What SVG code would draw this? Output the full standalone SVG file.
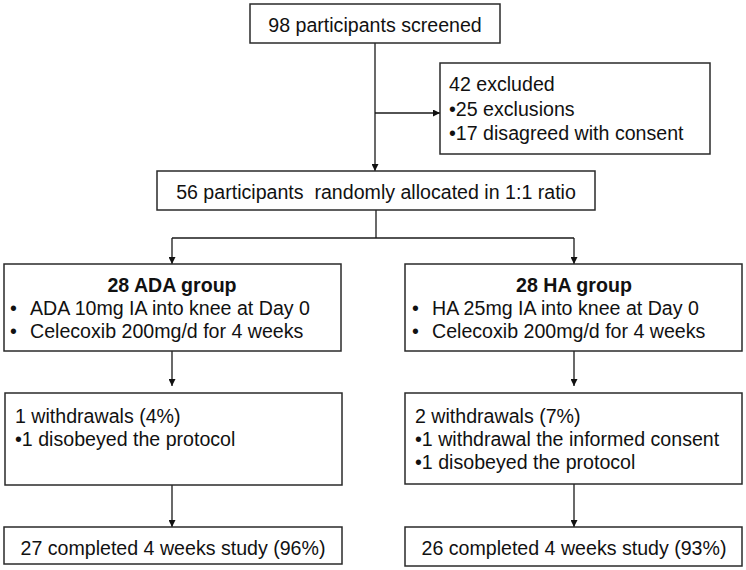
<svg xmlns="http://www.w3.org/2000/svg" width="746" height="570" viewBox="0 0 746 570">
<defs>
<style>
.box{fill:#fff;stroke:#2a2a2a;stroke-width:1.5}
.ln{fill:none;stroke:#1a1a1a;stroke-width:1.3}
text{font-family:"Liberation Sans",Arial,sans-serif;font-size:19.6px;fill:#111}
.c{text-anchor:middle}
.b{font-weight:bold}
</style>
<marker id="ah" viewBox="0 0 10 10" refX="10" refY="5" markerWidth="7" markerHeight="7" markerUnits="userSpaceOnUse" orient="auto">
<path d="M0,0 L10,5 L0,10 z" fill="#111"/>
</marker>
</defs>
<rect width="746" height="570" fill="#fff"/>
<g id="connectors">
<line class="ln" x1="375" y1="43" x2="375" y2="171" marker-end="url(#ah)"/>
<line class="ln" x1="375" y1="113" x2="440" y2="113" marker-end="url(#ah)"/>
<line class="ln" x1="376" y1="210" x2="376" y2="238"/>
<line class="ln" x1="172" y1="238" x2="574" y2="238"/>
<line class="ln" x1="172" y1="238" x2="172" y2="264" marker-end="url(#ah)"/>
<line class="ln" x1="574" y1="238" x2="574" y2="264" marker-end="url(#ah)"/>
<line class="ln" x1="172" y1="351" x2="172" y2="386" marker-end="url(#ah)"/>
<line class="ln" x1="574" y1="351" x2="574" y2="386" marker-end="url(#ah)"/>
<line class="ln" x1="172" y1="485" x2="172" y2="527" marker-end="url(#ah)"/>
<line class="ln" x1="574" y1="484" x2="574" y2="527" marker-end="url(#ah)"/>
</g>
<g id="screened">
<rect class="box" x="250" y="4" width="250" height="39"/>
<text class="c" x="375" y="31.5">98 participants screened</text>
</g>
<g id="excluded">
<rect class="box" x="440" y="63" width="270" height="91"/>
<text x="449" y="91">42 excluded</text>
<text x="449" y="115.5">•25 exclusions</text>
<text x="449" y="140">•17 disagreed with consent</text>
</g>
<g id="randomized">
<rect class="box" x="157" y="171" width="438" height="39"/>
<text class="c" x="376" y="198.5" xml:space="preserve">56 participants  randomly allocated in 1:1 ratio</text>
</g>
<g id="ada">
<rect class="box" x="4" y="264" width="337" height="87"/>
<text class="c b" x="172" y="292">28 ADA group</text>
<text x="10" y="315">•</text><text x="30" y="315">ADA 10mg IA into knee at Day 0</text>
<text x="10" y="338">•</text><text x="30" y="338">Celecoxib 200mg/d for 4 weeks</text>
</g>
<g id="ha">
<rect class="box" x="405" y="264" width="337" height="87"/>
<text class="c b" x="574" y="292">28 HA group</text>
<text x="412" y="315">•</text><text x="432" y="315">HA 25mg IA into knee at Day 0</text>
<text x="412" y="338">•</text><text x="432" y="338">Celecoxib 200mg/d for 4 weeks</text>
</g>
<g id="ada-withdrawals">
<rect class="box" x="5" y="393" width="337" height="92"/>
<text x="15" y="423">1 withdrawals (4%)</text>
<text x="15" y="446">•1 disobeyed the protocol</text>
</g>
<g id="ha-withdrawals">
<rect class="box" x="405" y="393" width="337" height="91"/>
<text x="415" y="423">2 withdrawals (7%)</text>
<text x="415" y="446">•1 withdrawal the informed consent</text>
<text x="415" y="469">•1 disobeyed the protocol</text>
</g>
<g id="ada-completed">
<rect class="box" x="4" y="527" width="338" height="37"/>
<text class="c" x="173" y="554.5">27 completed 4 weeks study (96%)</text>
</g>
<g id="ha-completed">
<rect class="box" x="405" y="527" width="337" height="39"/>
<text class="c" x="574" y="555">26 completed 4 weeks study (93%)</text>
</g>
</svg>
